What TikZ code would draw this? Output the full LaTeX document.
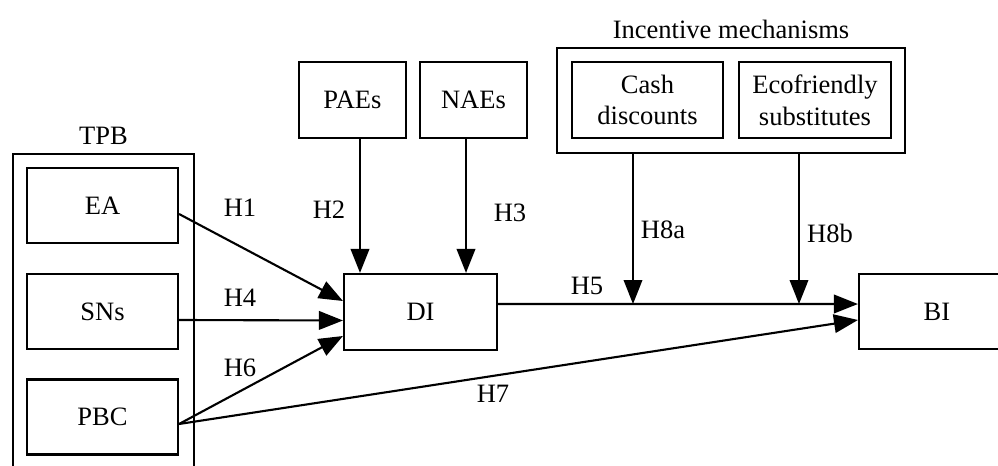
\documentclass[tikz,border=0pt]{standalone}
\usepackage{fontspec}
\setmainfont{Liberation Serif}
\usetikzlibrary{arrows.meta}
\usetikzlibrary{positioning}

\begin{document}
\begin{tikzpicture}[x=0.02cm, y=-0.02cm, line width=1.2pt,
  font=\fontsize{15.1}{18}\selectfont,
  box/.style={draw, align=center, inner sep=0pt},
  arr/.style={-{Triangle[length=0.48cm,width=0.37cm]}}]
\useasboundingbox (0,0) rectangle (998,466);
\node[draw, minimum width=3.62cm, minimum height=6.6cm, anchor=north west] (tpb) at (12,153) {};
\node[above=1pt of tpb.north] (tpblab) {TPB};
\node[box, minimum width=3.02cm, minimum height=1.5cm] (EA) at (102.5,205.5) {EA};
\node[box, minimum width=3.02cm, minimum height=1.5cm] (SNs) at (102.5,311.5) {SNs};
\node[box, minimum width=3.02cm, minimum height=1.5cm] (PBC) at (102.5,417) {PBC};
\node[box, minimum width=3.06cm, minimum height=1.52cm] (DI) at (420.5,312) {DI};
\node[box, minimum width=2.14cm, minimum height=1.52cm] (PAEs) at (352.5,100) {PAEs};
\node[box, minimum width=2.14cm, minimum height=1.52cm] (NAEs) at (473.5,100) {NAEs};
\node[draw, minimum width=6.96cm, minimum height=2.1cm] (inc) at (731,100.5) {};
\node[above=1pt of inc.north] (inclab) {Incentive mechanisms};
\node[box, minimum width=3.02cm, minimum height=1.52cm] (cash) at (647.5,100) {Cash\\discounts};
\node[box, minimum width=3.04cm, minimum height=1.52cm] (eco) at (815,100) {Ecofriendly\\substitutes};
\node[box, minimum width=3.12cm, minimum height=1.5cm] (BI) at (937,311.5) {BI};
\coordinate (m1) at (633,304);
\coordinate (m2) at (799,304);

\draw[arr] ([yshift=-0.17cm]EA.east) -- ([yshift=0.22cm]DI.west);
\draw[arr] ([yshift=-0.17cm]SNs.east) -- ([yshift=-0.17cm]DI.west);
\draw[arr] ([yshift=-0.14cm]PBC.east) -- ([yshift=-0.48cm]DI.west);
\draw[arr] ([yshift=-0.14cm]PBC.east) -- ([yshift=-0.17cm]BI.west);
\draw[arr] ([xshift=0.15cm]PAEs.south) -- ([xshift=0.15cm]PAEs.south |- DI.north);
\draw[arr] ([xshift=-0.15cm]NAEs.south) -- ([xshift=-0.15cm]NAEs.south |- DI.north);
\draw[arr] ([yshift=0.16cm]DI.east) -- ([yshift=0.15cm]BI.west);
\draw[arr] (inc.south -| m1) -- (m1);
\draw[arr] (inc.south -| m2) -- (m2);

\node (h1) at (240,208) {H1};
\node (h2) at (329,210) {H2};
\node (h3) at (510,213) {H3};
\node (h4) at (240,298) {H4};
\node (h5) at (587,286) {H5};
\node (h6) at (240,368) {H6};
\node (h7) at (493,394) {H7};
\node (h8a) at (663,230) {H8a};
\node (h8b) at (830,233) {H8b};
\end{tikzpicture}
\end{document}
